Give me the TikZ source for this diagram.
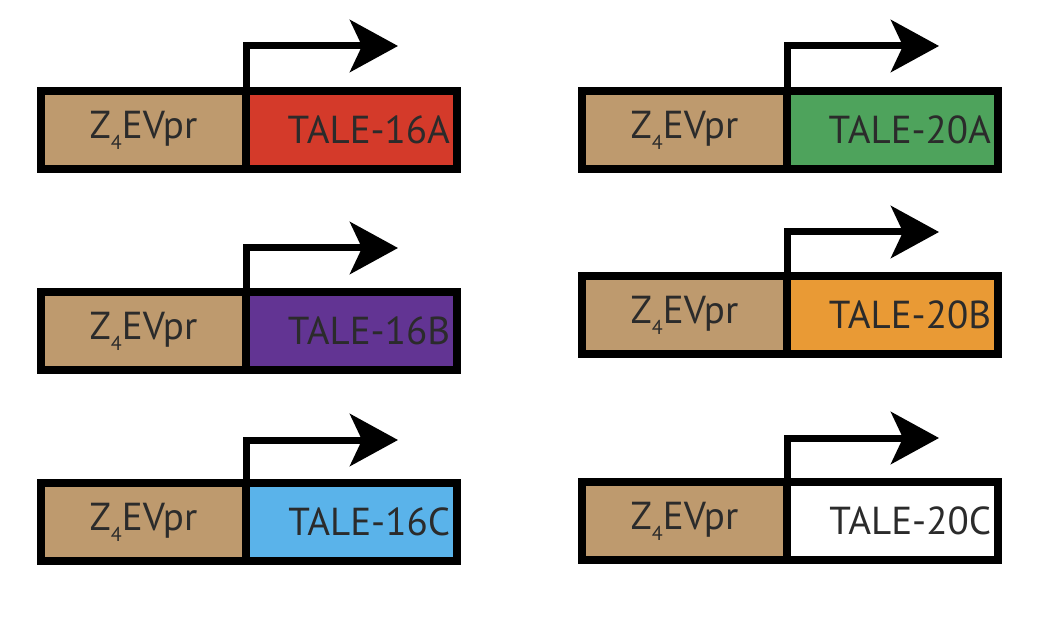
\documentclass[tikz,border=0pt]{standalone}
\usepackage{fontspec}
\setmainfont{PT Sans}
\usetikzlibrary{arrows.meta}

\definecolor{promtan}{HTML}{BE9A6E}
\definecolor{labelgray}{HTML}{2B2B2B}
\definecolor{taleA}{HTML}{D43A2A}
\definecolor{taleB}{HTML}{623493}
\definecolor{taleC}{HTML}{5AB3EA}
\definecolor{taleD}{HTML}{4EA35C}
\definecolor{taleE}{HTML}{E99A35}

\newcommand{\zevpr}{Z\raisebox{-11pt}{\fontsize{20}{20}\selectfont 4}EVpr}

\begin{document}
\begin{tikzpicture}[x=1pt, y=-1pt,
    promoter/.style ={rectangle, draw, line width=8pt, fill=promtan,
      minimum width=205pt, minimum height=78pt, outer sep=0pt,
      text=labelgray, font=\fontsize{39}{40}\selectfont},
    gene/.style ={rectangle, draw, line width=8pt, minimum height=78pt,
      text width=197pt, inner xsep=7pt, align=right, outer sep=0pt,
      text=labelgray, font=\fontsize{39}{40}\selectfont},
    tss/.style ={line width=7pt, -{Stealth[length=48pt, width=52pt, inset=12pt]}}]
   \useasboundingbox (0,0) rectangle (1046,636);

   % left column
   \node[promoter] (P16A) at (143.5,130) {\zevpr};
   \node[gene, fill=taleA] (T16A) at (351.5,130) {TALE-16A};
   \node[promoter] (P16B) at (143.5,331) {\zevpr};
   \node[gene, fill=taleB] (T16B) at (351.5,331) {TALE-16B};
   \node[promoter] (P16C) at (143.5,522) {\zevpr};
   \node[gene, fill=taleC] (T16C) at (351.5,522) {TALE-16C};

   % right column
   \node[promoter] (P20A) at (684.5,130) {\zevpr};
   \node[gene, fill=taleD] (T20A) at (892.5,130) {TALE-20A};
   \node[promoter] (P20B) at (684.5,315) {\zevpr};
   \node[gene, fill=taleE] (T20B) at (892.5,315) {TALE-20B};
   \node[promoter] (P20C) at (684.5,521) {\zevpr};
   \node[gene, fill=white] (T20C) at (892.5,521) {TALE-20C};

   \coordinate (E16A) at (398,46);
   \coordinate (E16B) at (398,248);
   \coordinate (E16C) at (398,440);
   \coordinate (E20A) at (939,46);
   \coordinate (E20B) at (939,232);
   \coordinate (E20C) at (939,438);

   \draw[tss] (P16A.north east) |- (E16A);
   \draw[tss] (P16B.north east) |- (E16B);
   \draw[tss] (P16C.north east) |- (E16C);
   \draw[tss] (P20A.north east) |- (E20A);
   \draw[tss] (P20B.north east) |- (E20B);
   \draw[tss] (P20C.north east) |- (E20C);
 \end{tikzpicture}
\end{document}
